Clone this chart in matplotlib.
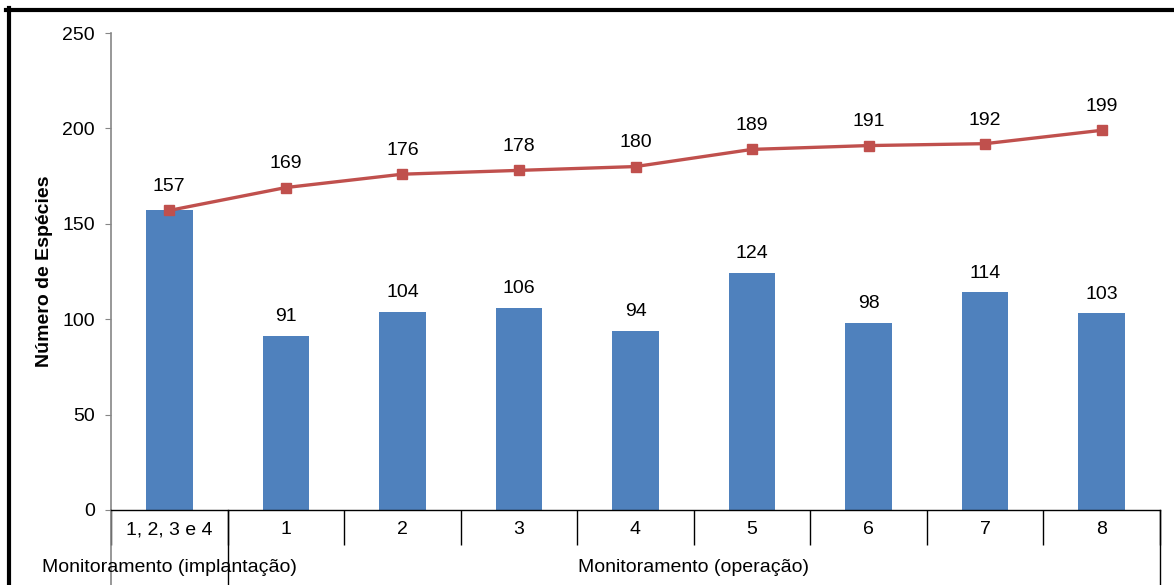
import matplotlib.pyplot as plt
from matplotlib.lines import Line2D
import numpy as np

plt.rcParams['font.family'] = ['Liberation Sans', 'DejaVu Sans']

categorias = ["1, 2, 3 e 4", "1", "2", "3", "4", "5", "6", "7", "8"]
especies_campanha = [157, 91, 104, 106, 94, 124, 98, 114, 103]
especies_acumulado = [157, 169, 176, 178, 180, 189, 191, 192, 199]
grupos = ["Monitoramento (implantação)", "Monitoramento (operação)"]
grupo_tamanho = [1, 8]

W, H = 1174, 585
fs = 14
fig = plt.figure(figsize=(W / 100, H / 100), dpi=100)
ax = fig.add_axes([111 / W, (H - 510) / H, (1160 - 111) / W, (510 - 33) / H])

x = np.arange(len(categorias))
ax.bar(x, especies_campanha, width=0.40, color="#4F81BD", zorder=2)
ax.plot(x, especies_acumulado, color="#C0504D", lw=2.4, marker="s",
        markersize=7.5, zorder=3)

for xi, v in zip(x, especies_campanha):
    if v == especies_acumulado[xi]:
        continue
    ax.annotate(str(v), (xi, v), xytext=(0, 14), textcoords="offset points",
                ha="center", va="center", fontsize=fs)
for xi, v in zip(x, especies_acumulado):
    ax.annotate(str(v), (xi, v), xytext=(0, 17), textcoords="offset points",
                ha="center", va="center", fontsize=fs)

ax.set_xlim(-0.5, len(categorias) - 0.5)
ax.set_ylim(0, 250)
ax.set_yticks(np.arange(0, 251, 50))
ax.tick_params(axis="y", length=4.5, color="#868686", labelsize=fs, pad=7)
ax.set_ylabel("Número de Espécies", fontsize=fs, fontweight="bold")
ax.yaxis.set_label_coords(-(111 - 53) / (1160 - 111), 0.5)

for s in ["top", "right"]:
    ax.spines[s].set_visible(False)
ax.spines["left"].set_color("#868686")
ax.spines["left"].set_linewidth(1.2)
ax.spines["bottom"].set_color("black")
ax.spines["bottom"].set_linewidth(1.0)

# category labels (first level) and separators
ax.set_xticks(x)
ax.set_xticklabels(categorias, fontsize=fs)
ax.tick_params(axis="x", length=0, pad=8)
ax.set_xticks(np.arange(-0.5, len(categorias)), minor=True)
ax.tick_params(axis="x", which="minor", length=25, color="black", width=1.0)

trans = ax.get_xaxis_transform()
ax_h = 510 - 33
bottom = -(585 - 510) / ax_h
for xb, col in [(-0.5, "#868686"), (0.5, "black"), (len(categorias) - 0.5, "black")]:
    ax.add_line(Line2D([xb, xb], [0, bottom], transform=trans, color=col,
                       lw=1.2 if col == "#868686" else 1.0, clip_on=False))

# group labels (second level)
inicio = -0.5
for nome, n in zip(grupos, grupo_tamanho):
    ax.text(inicio + n / 2, -58 / ax_h, nome, transform=trans, ha="center",
            va="center", fontsize=fs)
    inicio += n

# outer frame
fig.add_artist(Line2D([6 / W, 1], [1 - 10 / H, 1 - 10 / H], color="black", lw=3))
fig.add_artist(Line2D([8.5 / W, 8.5 / W], [0, 1 - 8 / H], color="black", lw=3))

fig.savefig("out.png", dpi=100)
